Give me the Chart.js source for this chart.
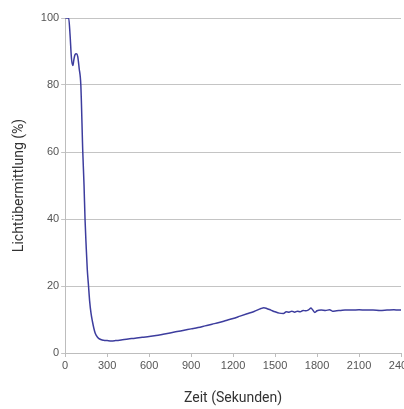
<!DOCTYPE html>
<html>
<head>
<meta charset="utf-8">
<script src="https://cdn.jsdelivr.net/npm/chart.js@4.4.1/dist/chart.umd.min.js"></script>
<style>
  html, body { margin: 0; padding: 0; background: #fff; overflow: hidden; }
  #wrap { width: 420px; height: 409px; }
</style>
</head>
<body>
<div id="wrap"><canvas id="c" width="420" height="409"></canvas></div>
<script>
// Time in seconds
const times = [
  0, 10, 25, 35, 45, 55, 62, 70, 80, 90, 100, 112, 126, 135, 142, 150, 158, 167, 175, 185,
  195, 205, 215, 230, 250, 275, 300, 330, 360, 400, 450, 500, 550, 600, 650, 700, 750, 800,
  850, 900, 950, 1000, 1050, 1100, 1150, 1200, 1250, 1300, 1350, 1400, 1420, 1440, 1470,
  1500, 1530, 1560, 1580, 1600, 1620, 1640, 1660, 1680, 1700, 1720, 1740, 1757, 1770, 1785,
  1800, 1830, 1860, 1890, 1910, 1940, 1970, 2000, 2050, 2100, 2150, 2200, 2250, 2300, 2350,
  2380, 2400
];
// Light transmission in percent
const transmission = [
  100, 100, 100, 95, 88, 85.8, 87.5, 89, 89.3, 88.5, 85, 80, 60, 50, 40, 32, 25, 20, 15.5, 11.8,
  9.4, 7.4, 5.9, 4.8, 4.1, 3.8, 3.7, 3.6, 3.7, 3.9, 4.2, 4.4, 4.7, 4.9, 5.2, 5.6, 6.0, 6.4,
  6.8, 7.2, 7.6, 8.1, 8.6, 9.1, 9.7, 10.3, 11.0, 11.7, 12.4, 13.3, 13.5, 13.3, 12.8,
  12.3, 11.9, 11.8, 12.3, 12.2, 12.5, 12.2, 12.5, 12.3, 12.7, 12.6, 12.9, 13.4, 12.8, 12.1,
  12.6, 12.8, 12.7, 12.9, 12.5, 12.6, 12.7, 12.8, 12.8, 12.9, 12.8, 12.8, 12.7, 12.8, 12.9,
  12.8, 12.8
];
const xTicks = [0, 300, 600, 900, 1200, 1500, 1800, 2100, 2400];
const yTicks = [0, 20, 40, 60, 80, 100];

const points = times.map((t, i) => ({ x: t, y: transmission[i] }));
const plain = (v) => String(v);

new Chart(document.getElementById('c'), {
  type: 'line',
  data: {
    datasets: [{
      data: points,
      borderColor: '#3d3d9e',
      borderWidth: 1.5,
      pointRadius: 0,
      fill: false,
      cubicInterpolationMode: 'monotone'
    }]
  },
  options: {
    responsive: false,
    animation: false,
    layout: { padding: { top: 18, right: 19, bottom: 2, left: 11 } },
    plugins: { legend: { display: false }, tooltip: { enabled: false } },
    scales: {
      x: {
        type: 'linear',
        min: xTicks[0],
        max: xTicks[xTicks.length - 1],
        afterBuildTicks: (axis) => { axis.ticks = xTicks.map(v => ({ value: v })); },
        grid: { drawOnChartArea: false, color: '#bdbdbd', tickLength: 4 },
        border: { color: '#bdbdbd' },
        ticks: { maxRotation: 0, autoSkip: false, color: '#555', padding: 2, callback: plain,
                 font: { family: 'Liberation Sans', size: 11 } },
        title: { display: true, text: 'Zeit (Sekunden)', color: '#333',
                 font: { family: 'Roboto', size: 14 }, padding: { top: 16, bottom: 0 } }
      },
      y: {
        min: yTicks[0],
        max: yTicks[yTicks.length - 1],
        afterBuildTicks: (axis) => { axis.ticks = yTicks.map(v => ({ value: v })); },
        grid: { color: '#c4c4c4', tickLength: 4 },
        border: { color: '#bdbdbd' },
        ticks: { color: '#555', padding: 2, callback: plain,
                 font: { family: 'Liberation Sans', size: 11 } },
        title: { display: true, text: 'Lichtübermittlung (%)', color: '#333',
                 font: { family: 'Roboto', size: 14 }, padding: { top: 0, bottom: 11 } }
      }
    }
  }
});
</script>
</body>
</html>
